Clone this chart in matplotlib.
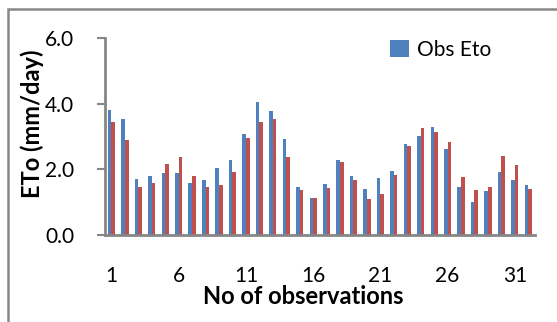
import numpy as np
import matplotlib.pyplot as plt
from matplotlib.patches import Rectangle

plt.rcParams['font.family'] = ['Lato', 'DejaVu Sans']

obs = list(range(1, 33))
obs_eto = [3.82, 3.53, 1.70, 1.79, 1.90, 1.89, 1.58, 1.69, 2.03, 2.28, 3.09,
           4.04, 3.78, 2.93, 1.46, 1.13, 1.56, 2.30, 1.80, 1.40, 1.73, 1.95,
           2.78, 3.03, 3.29, 2.63, 1.45, 1.01, 1.33, 1.92, 1.68, 1.52]
est_eto = [3.45, 2.90, 1.45, 1.59, 2.16, 2.37, 1.80, 1.45, 1.53, 1.93, 2.96,
           3.45, 3.53, 2.37, 1.37, 1.14, 1.43, 2.22, 1.68, 1.09, 1.25, 1.84,
           2.70, 3.26, 3.14, 2.83, 1.77, 1.36, 1.46, 2.40, 2.13, 1.41]
yticks = [0.0, 2.0, 4.0, 6.0]

fig = plt.figure(figsize=(5.57, 3.22), dpi=100)
ax = fig.add_axes([0.188, 0.270, 0.7725, 0.612])

x = np.array(obs)
w = 0.27
ax.bar(x - w / 2, obs_eto, w, color='#4F81BD', label='Obs Eto')
ax.bar(x + w / 2, est_eto, w, color='#C0504D')

ax.set_xlim(0.5, 32.5)
ax.set_ylim(0, 6.0)
ax.set_yticks(yticks)
ax.set_yticklabels(['%.1f' % v for v in yticks], fontsize=15)
ax.set_xticks(obs[::5])
ax.set_xticklabels([str(v) for v in obs[::5]], fontsize=15)
ax.tick_params(axis='x', length=0, pad=22)
ax.tick_params(axis='y', length=6, width=1.5, color='#868686', pad=16)

for s in ['top', 'right']:
    ax.spines[s].set_visible(False)
for s in ['left', 'bottom']:
    ax.spines[s].set_color('#868686')
    ax.spines[s].set_linewidth(2)

fig.text(32 / 557, 1 - 124 / 322, 'ETo (mm/day)', rotation=90, fontsize=17,
         fontweight='bold', ha='center', va='center')
fig.text(303 / 557, 1 - 297 / 322, 'No of observations', fontsize=17,
         fontweight='bold', ha='center', va='center')

ax.legend(loc='center left', bbox_to_anchor=(0.663, 0.94), frameon=False,
          fontsize=15, handlelength=0.9, handleheight=0.9, handletextpad=0.4,
          borderaxespad=0, borderpad=0)

# outer chart frame
fig.patches.append(Rectangle((8 / 557, -0.1), 1.2, 1 - 9 / 322 + 0.1,
                             transform=fig.transFigure, fill=False,
                             edgecolor='#888888', linewidth=1.8))

fig.savefig('out.png', dpi=100)
